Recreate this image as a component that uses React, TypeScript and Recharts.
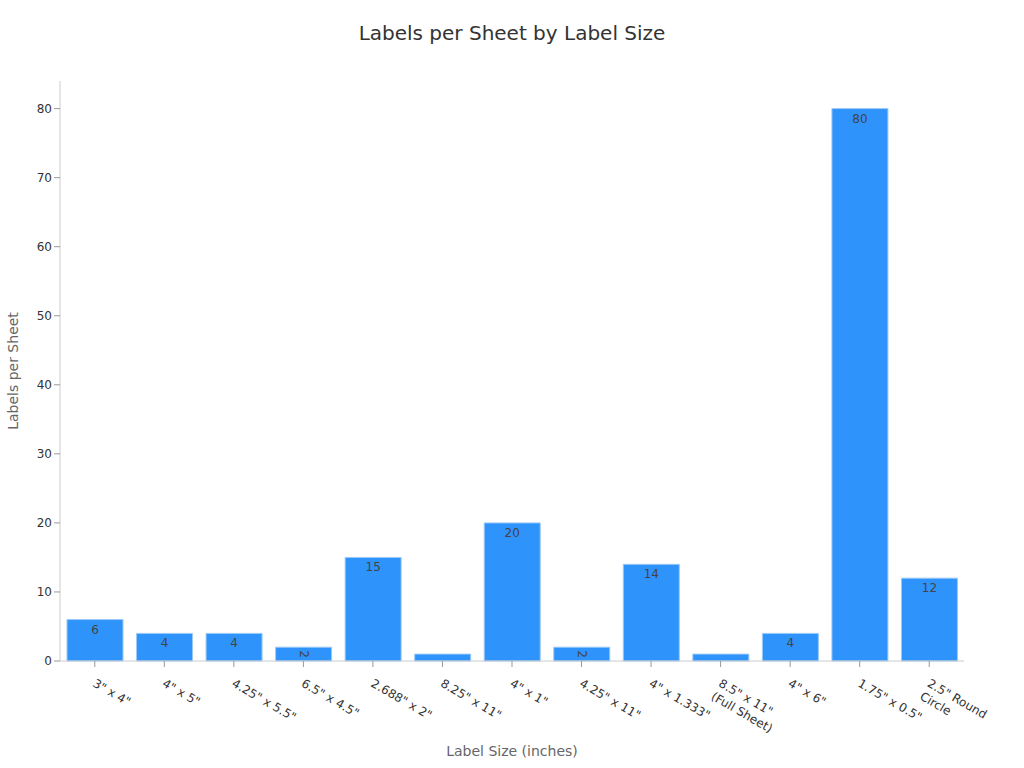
import React from "react";
import { BarChart, Bar, XAxis, YAxis, LabelList } from "recharts";

const sizes = [
  '3" x 4"',
  '4" x 5"',
  '4.25" x 5.5"',
  '6.5" x 4.5"',
  '2.688" x 2"',
  '8.25" x 11"',
  '4" x 1"',
  '4.25" x 11"',
  '4" x 1.333"',
  '8.5" x 11"\n(Full Sheet)',
  '4" x 6"',
  '1.75" x 0.5"',
  '2.5" Round\nCircle',
];
const labelsPerSheet = [6, 4, 4, 2, 15, 1, 20, 2, 14, 1, 4, 80, 12];
const yTicks = [0, 10, 20, 30, 40, 50, 60, 70, 80];

const chartData = sizes.map((size, i) => ({ size, count: labelsPerSheet[i] }));

const FONT = "'DejaVu Sans', sans-serif";

// rotated, possibly two-line category labels
const renderTick = (props: any) => {
  const { x, y, payload } = props;
  const lines = String(payload.value).split("\n");
  return (
    <g transform={`translate(${x},${y}) rotate(30)`}>
      {lines.map((line: string, i: number) => (
        <text
          key={i}
          x={6}
          y={16 + i * 15}
          textAnchor="start"
          fontSize={12}
          fill="#333"
          fontFamily={FONT}
        >
          {line}
        </text>
      ))}
    </g>
  );
};

// value inside the top of each bar; tiny bars get a rotated or hidden label
const renderValue = (props: any) => {
  const { x, y, width, value } = props;
  const cx = x + width / 2;
  if (value <= 1) return null;
  if (value <= 2) {
    return (
      <text
        x={cx}
        y={y + 7}
        transform={`rotate(90 ${cx} ${y + 7})`}
        textAnchor="middle"
        dominantBaseline="central"
        fontSize={12}
        fill="#444"
        fontFamily={FONT}
      >
        {value}
      </text>
    );
  }
  return (
    <text
      x={cx}
      y={y + 14}
      textAnchor="middle"
      fontSize={12}
      fill="#444"
      fontFamily={FONT}
    >
      {value}
    </text>
  );
};

export default function App() {
  return (
    <div
      style={{
        position: "absolute",
        left: 0,
        top: 0,
        width: 1024,
        height: 768,
        background: "#fff",
        fontFamily: FONT,
      }}
    >
      <div
        style={{
          position: "absolute",
          top: 21,
          width: 1024,
          textAlign: "center",
          fontSize: 20,
          color: "#333",
        }}
      >
        Labels per Sheet by Label Size
      </div>
      <BarChart
        width={1024}
        height={768}
        data={chartData}
        margin={{ top: 81, right: 60, left: 1, bottom: 0 }}
        barCategoryGap={7}
      >
        <XAxis
          dataKey="size"
          interval={0}
          tick={renderTick}
          height={107}
          stroke="#ccc"
          tickLine={{ stroke: "#999" }}
          label={({ viewBox }: any) => (
            <text
              x={viewBox.x + viewBox.width / 2}
              y={756}
              textAnchor="middle"
              fontSize={14}
              fill="#666"
              fontFamily={FONT}
            >
              Label Size (inches)
            </text>
          )}
        />
        <YAxis
          width={59}
          domain={[0, 84]}
          ticks={yTicks}
          stroke="#ccc"
          tickLine={{ stroke: "#999" }}
          tick={{ fontSize: 12, fill: "#333", fontFamily: FONT }}
          label={({ viewBox }: any) => {
            const cy = viewBox.y + viewBox.height / 2;
            return (
              <text
                x={13}
                y={cy}
                transform={`rotate(-90 13 ${cy})`}
                textAnchor="middle"
                dominantBaseline="central"
                fontSize={14}
                fill="#666"
                fontFamily={FONT}
              >
                Labels per Sheet
              </text>
            );
          }}
        />
        <Bar
          dataKey="count"
          fill="#2e93fa"
          stroke="#9cc9f7"
          strokeWidth={1}
          isAnimationActive={false}
        >
          <LabelList dataKey="count" content={renderValue} />
        </Bar>
      </BarChart>
    </div>
  );
}
